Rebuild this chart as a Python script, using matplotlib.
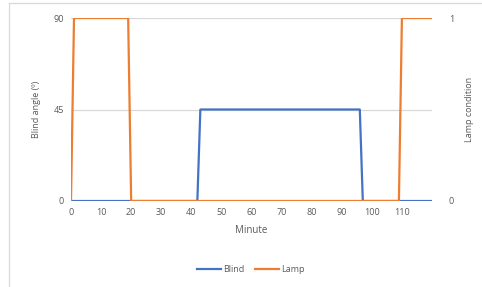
import matplotlib.pyplot as plt
from matplotlib.lines import Line2D

# Blind angle (degrees) at the minutes where it changes
blind_minutes = [0, 42, 43, 96, 97, 120]
blind_angle = [0, 0, 45, 45, 0, 0]

# Lamp condition (0 = off, 1 = on)
lamp_minutes = [0, 1, 19, 20, 109, 110, 120]
lamp_state = [0, 1, 1, 0, 0, 1, 1]

x_ticks = list(range(0, 120, 10))
blind_ticks = [0, 45, 90]
lamp_ticks = [0, 1]

plt.rcParams['font.family'] = ['Open Sans', 'DejaVu Sans']
txt = '#595959'
grid_c = '#d9d9d9'

fig = plt.figure(figsize=(4.82, 2.87), dpi=100)
ax = fig.add_axes([71 / 482, 1 - 201 / 287, (432 - 71) / 482, (201 - 18) / 287])

ax.plot(blind_minutes, blind_angle, color='#4472C4', lw=1.6, label='Blind')
ax.set_xlim(0, 120)
ax.set_ylim(0, 90)
ax.set_yticks(blind_ticks)
ax.set_xticks(x_ticks)
ax.grid(axis='y', color=grid_c, lw=0.9)
ax.set_axisbelow(True)
for s in ax.spines.values():
    s.set_visible(False)
ax.tick_params(length=0, labelsize=6.5, colors=txt, pad=5)
ax.set_xlabel('Minute', fontsize=7, color=txt, labelpad=6)
ax.set_ylabel('Blind angle (º)', fontsize=6.5, color=txt, labelpad=9)

ax2 = ax.twinx()
ax2.plot(lamp_minutes, lamp_state, color='#ED7D31', lw=1.6, label='Lamp')
ax2.set_ylim(0, 1)
ax2.set_yticks(lamp_ticks)
for s in ax2.spines.values():
    s.set_visible(False)
ax2.tick_params(length=0, labelsize=6.5, colors=txt, pad=12)
ax2.set_ylabel('Lamp condition', fontsize=6.5, color=txt, labelpad=8)

handles = [Line2D([], [], color='#4472C4', lw=1.6),
           Line2D([], [], color='#ED7D31', lw=1.6)]
fig.legend(handles, ['Blind', 'Lamp'], loc='center', bbox_to_anchor=(251 / 482, 1 - 270 / 287),
           ncol=2, frameon=False, fontsize=6.5, labelcolor=txt, handlelength=2.6,
           handletextpad=0.3, columnspacing=1.2)

# chart frame (partly cropped)
fig.add_artist(Line2D([9 / 482, 9 / 482], [0, 1 - 3 / 287], color=grid_c, lw=0.9))
fig.add_artist(Line2D([9 / 482, 1], [1 - 3 / 287, 1 - 3 / 287], color=grid_c, lw=0.9))

fig.savefig('out.png', dpi=100)
